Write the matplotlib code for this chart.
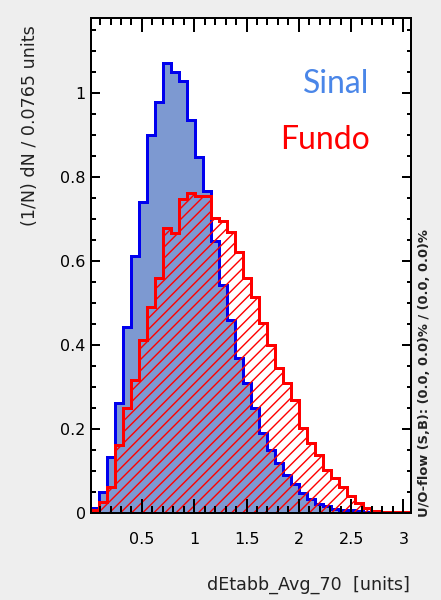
import numpy as np
import matplotlib
matplotlib.use("Agg")
import matplotlib.pyplot as plt
from matplotlib.ticker import MultipleLocator, FuncFormatter

# binning: 40 bins of 0.0765 units
x_start = 0.01
bin_width = 0.0765
n_bins = 40

# normalised histograms (1/N dN per bin)
sinal = [0.012, 0.051, 0.135, 0.263, 0.443, 0.613, 0.742, 0.901, 0.978, 1.071,
         1.051, 1.028, 0.936, 0.849, 0.768, 0.647, 0.544, 0.460, 0.369, 0.310,
         0.250, 0.190, 0.150, 0.120, 0.092, 0.070, 0.048, 0.035, 0.022, 0.017,
         0.010, 0.008, 0.007, 0.005, 0.004, 0.003, 0.002, 0.002, 0.001, 0.001]
fundo = [0.008, 0.028, 0.063, 0.163, 0.250, 0.317, 0.413, 0.492, 0.560, 0.680,
         0.668, 0.748, 0.762, 0.756, 0.756, 0.704, 0.696, 0.670, 0.623, 0.560,
         0.516, 0.452, 0.401, 0.345, 0.310, 0.270, 0.202, 0.167, 0.139, 0.103,
         0.083, 0.062, 0.040, 0.024, 0.012, 0.006, 0.004, 0.003, 0.003, 0.002]

x_label = "dEtabb_Avg_70  [units]"
y_label = "(1/N) dN / 0.0765 units"
flow_text = "U/O-flow (S,B): (0.0, 0.0)% / (0.0, 0.0)%"

DPI = 100
PT = 72.0 / DPI   # points per pixel
W, H = 441, 600

plt.rcParams['hatch.linewidth'] = 1.4 * PT
plt.rcParams['font.family'] = 'DejaVu Sans'

fig = plt.figure(figsize=(W / DPI, H / DPI), dpi=DPI, facecolor='#eeeeee')
ax = fig.add_axes([90.7 / W, 1 - 513.3 / H, 320.0 / W, 495.3 / H])
ax.set_facecolor('white')

edges = x_start + bin_width * np.arange(n_bins + 1)

# signal: filled, blue outline
ax.stairs(sinal, edges, fill=True, color='#7d99d1', linewidth=0)
ax.stairs(sinal, edges, color='#0000ee', linewidth=3 * PT)
# background: red hatch on top, red outline
ax.stairs(fundo, edges, fill=True, facecolor='none', edgecolor='#ff0000',
          hatch='///', linewidth=0)
ax.stairs(fundo, edges, color='#ff0000', linewidth=3 * PT)

ax.set_xlim(edges[0], edges[-1])
ax.set_ylim(0, 1.179)

ax.xaxis.set_major_locator(MultipleLocator(0.5))
ax.xaxis.set_minor_locator(MultipleLocator(0.1))
ax.yaxis.set_major_locator(MultipleLocator(0.2))
ax.yaxis.set_minor_locator(MultipleLocator(0.05))
fmt = FuncFormatter(lambda v, p: '%g' % round(v, 3))
ax.xaxis.set_major_formatter(fmt)
ax.yaxis.set_major_formatter(fmt)

ax.tick_params(which='both', direction='in', top=True, right=True,
               width=2 * PT, color='black', labelsize=16 * PT)
ax.tick_params(axis='x', which='major', length=14 * PT, pad=19 * PT)
ax.tick_params(axis='x', which='minor', length=7 * PT)
ax.tick_params(axis='y', which='major', length=9 * PT, pad=5 * PT)
ax.tick_params(axis='y', which='minor', length=4.5 * PT)
for s in ax.spines.values():
    s.set_linewidth(2 * PT)

fig.text(410 / W, 1 - 585 / H, x_label, ha='right', va='center',
         fontsize=17.5 * PT, color='#222222')
fig.text(30 / W, 1 - 25 / H, y_label, rotation=90, ha='center', va='top',
         fontsize=17.5 * PT, color='#222222')
fig.text(425 / W, 1 - 517 / H, flow_text, rotation=90, ha='center',
         va='bottom', fontsize=13 * PT, fontweight='bold', color='#222222')

fig.text(369 / W, 1 - 93 / H, "Sinal", ha='right', va='baseline',
         fontsize=32 * PT, family='Lato', color='#4a86e8')
fig.text(370 / W, 1 - 149 / H, "Fundo", ha='right', va='baseline',
         fontsize=32 * PT, family='Lato', color='#ff0000')

fig.savefig("out.png", dpi=DPI, facecolor=fig.get_facecolor())
